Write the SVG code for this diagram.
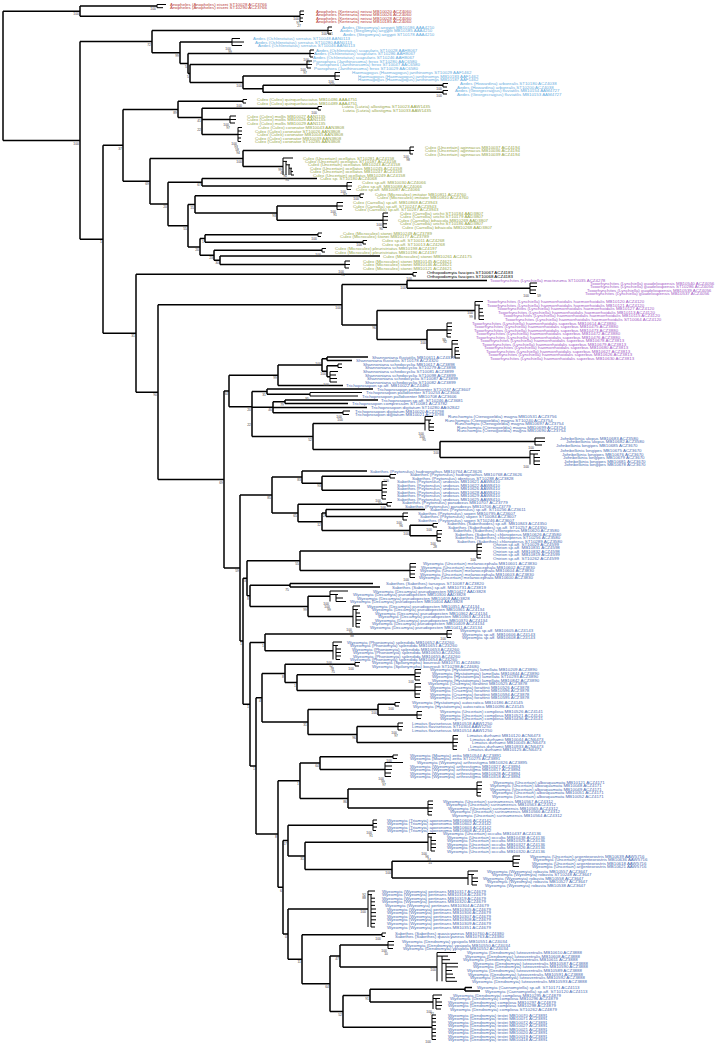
<svg xmlns="http://www.w3.org/2000/svg" width="715" height="1044" viewBox="0 0 715 1044">
<style>
text{font-family:"Liberation Sans",Arial,sans-serif}
.l{font-size:4.4px}
.b{font-size:3.4px;fill:#444;text-anchor:end}
.an{fill:#b8413c}.ae{fill:#6aaee0}.cx{fill:#98a84a}.or{fill:#000}.tx{fill:#a35ac6}.sb{fill:#4b6db3}
.br{fill:none;stroke:#000;stroke-width:1.5}
.tp{fill:none;stroke:#000;stroke-width:1}
</style>
<rect width="715" height="1044" fill="#fff"/>
<g id="branches">
<path class="br" d="M3 11.2V140.5M3 11.2H80M80 6.1V16.25M80 6.1H157M80 16.25H300M3 140.5H80M80 41.6V239.2M80 41.6H152M152 30.5V52.75M152 30.5H328M152 52.75H180M180 42V63.5M180 42H232M180 63.5H188M188 53.5V73.45M188 53.5H310M188 73.45H190M190 64.5V82.4M190 64.5H307M190 82.4H243M243 76V88.75M243 76H335M243 88.75H263M263 85.25V92.25M263 85.25H443M263 92.25H443
M80 239.2H103M103 145.3V333.2M103 145.3H123M123 109.4V181.2M123 109.4H178M178 101.25V117.6M178 101.25H243M178 117.6H202M202 108.25V134.5M202 108.25H318M202 119.5H230M202 134.5H238M123 181.2H150M150 158.5V203.95M150 158.5H243M243 150.5V166.5M243 150.5H410M243 166.5H283M150 203.95H168M168 182.25V225.65M168 182.25H202M202 178.5V186M202 178.5H317M202 186H347M168 225.65H188M188 204.4V246.9M188 204.4H195M195 195.75V213.1M195 195.75H360M195 213.1H277M277 206V220.2M277 206H337M277 220.2H383M188 246.9H200M200 238.5V255.25M200 238.5H205M205 234.75V242.25M205 234.75H318M205 242.25H363M200 255.25H214M214 250.25V260.25M214 250.25H322M214 260.25H220M220 256V264.5M220 256H380M220 264.5H345
M103 333.2H136M136 274.25V392.2M136 274.25H413M136 392.2H158M158 304.7V479.55M158 304.7H342M342 284.4V325M342 284.4H407M407 280.5V288.25M407 280.5H487M407 288.25H530M342 325H377M377 310.5V339.6M377 310.5H475M377 339.6H427M427 330V349.25M427 330H447M427 349.25H452
M158 479.55H224M224 391V568.1M224 391H229M229 375.25V406.75M229 375.25H278M278 365V385.5M278 365H322M322 358.75V371.25M322 358.75H327M327 357V360.5M327 357H368M327 360.5H352M322 371.25H327M327 365.75V376.75M327 365.75H338M327 376.75H330M278 385.5H343M229 406.75H252M252 391.6V436.5M252 391.6H267M267 389V394.25M267 389H373M267 394.25H310M252 407.25H273M273 401.75V412.75M273 401.75H285M285 400V403.5M285 400H378M285 403.5H348M273 407.5H367M273 412.75H343M252 436.5H313M313 423.5V449.5M313 423.5H425M313 449.5H440M440 441.5V457.5M440 441.5H535M440 457.5H530
M224 568.1H240M240 495.05V641.1M240 495.05H272M272 477.1V513M272 477.1H302M302 471V483.25M302 471H367M302 483.25H322M322 476.25V490.25M322 476.25H390M322 490.25H382M272 513H298M298 504.25V521.75M298 504.25H387M298 521.75H322M322 513V530.5M322 513H326M326 509.5V516.5M326 509.5H425M326 516.5H403M322 530.5H410M410 525.25V535.75M410 525.25H433M410 535.75H437
M240 641.1H243M243 578.2V704.15M243 578.2H247M247 560.75V595.8M247 560.75H300M300 551V570.5M300 551H477M300 570.5H410M247 595.8H250M250 585.25V606.4M250 585.25H290M290 583.5V587M290 583.5H373M290 587H380M250 606.4H308M308 596.25V616.5M308 596.25H330M308 616.5H353
M243 704.15H250M250 642.4V765.9M250 642.4H265M265 634V650.75M265 634H447M265 650.75H333M250 765.9H256M256 697.7V834.1M256 697.7H262M262 673.4V722M262 673.4H285M285 664.25V682.6M285 664.25H355M285 682.6H297M297 674.75V690.5M297 674.75H415M297 690.5H415M262 722H308M308 709.6V734.5M308 709.6H378M378 704.25V715M378 704.25H395M378 715H417M308 734.5H357M357 726.5V742.5M357 726.5H398M357 742.5H453
M256 834.1H278M278 780.8V887.35M278 780.8H300M300 763.1V798.5M300 763.1H320M320 756.75V769.5M320 756.75H393M320 769.5H385M300 798.5H348M348 789V808M348 789H477M348 808H428M278 887.35H283M283 840.6V934.1M283 840.6H288M288 825.25V855.9M288 825.25H373M288 855.9H305M305 842.25V869.6M305 842.25H428M305 869.6H392M392 861.25V878M392 861.25H513M392 878H468M283 934.1H288M288 909V959.2M288 909H368M288 959.2H302M302 934.75V983.7M302 934.75H382M302 983.7H330M330 955.95V1011.4M330 955.95H340M340 945V966.9M340 945H388M340 966.9H437M330 1011.4H343M343 995.6V1027.25M343 995.6H370M370 989.25V1002M370 989.25H465M465 987.5V991M465 987.5H472M465 991H480M370 1002H433M343 1027.25H432"/>
<path class="tp" d="M157 4.5V7.7M157 4.5H166M157 7.7H163M300 11V21.5M300 11H304M300 14.5H304M300 18H303M300 21.5H303M328 27V34M328 27H332M328 30.5H332M328 34H331M232 38.5V45.5M232 38.5H240M232 42H244M232 45.5H242M310 50V57M310 50H314M310 53.5H314M310 57H313M307 61V68M307 61H312M307 64.5H312M307 68H311M335 72.5V79.5M335 72.5H340M335 76H340M335 79.5H339M443 83.5V87M443 83.5H448M443 87H447M443 90.5V94M443 90.5H448M443 94H447
M243 99.5V103M243 99.5H247M243 103H246M318 106.5V110M318 106.5H322M318 110H321M230 116V123M230 116H236M230 119.5H236M230 123H235M238 127.5V141.5M238 127.5H242M238 131H242M238 134.5H242M238 138H241M238 141.5H241M410 147V154M410 147H414M410 150.5H414M410 154H413M283 158V175M283 158H293M283 161.4H287M286 161.4V175M286 164.8H290M289 164.8V175M289 168.2H292M291 168.2V175M291 171.6H293M291 175H294M347 182.5V189.5M347 182.5H352M347 186H352M347 189.5H351M360 194V197.5M360 194H364M360 197.5H363M337 202.5V209.5M337 202.5H343M337 206H343M337 209.5H342M383 213V227.4M383 213H388M383 216.6H388M383 220.2H388M383 223.8H387M383 227.4H387M318 233V236.5M318 233H322M318 236.5H321M363 240.5V244M363 240.5H367M363 244H366M322 248.5V252M322 248.5H326M322 252H325M345 261V268M345 261H350M345 264.5H350M345 268H349M413 272.5V276M413 272.5H417M413 276H416
M530 283V293.5M530 283H537M530 286.5H537M530 290H536M530 293.5H536M475 301.5V319.5M475 301.5H483M475 305.1H480M479 305.1V319.5M479 308.7H483M479 312.3H483M479 315.9H484M479 319.5H484M447 323V337M447 323H452M447 326.5H452M447 330H452M447 333.5H451M447 337H451M452 340.5V358M452 340.5H458M452 344H458M455 347.5V358M455 347.5H459M455 351H459M455 354.5H460M455 358H460M338 364V367.5M338 364H342M338 367.5H342M330 371.5V382M330 371.5H338M330 375H336M330 378.5H337M330 382H337M310 392.5V396M310 392.5H362M310 396H358M343 411V414.5M343 411H350M343 414.5H349M425 416.5V430.5M425 416.5H433M425 420H431M429 420V430.5M429 423.5H434M429 427H434M429 430.5H434M535 438V445M535 438H545M535 441.5H545M535 445H542M530 450.5V464.5M530 450.5H540M530 454H538M534 454V464.5M534 457.5H540M534 461H540M534 464.5H540
M390 474.5V478M390 474.5H396M390 478H395M382 481.5V499M382 481.5H387M382 485H387M382 488.5H387M382 492H387M382 495.5H386M382 499H386M387 502.5V506M387 502.5H392M387 506H391M403 513V520M403 513H408M403 516.5H408M403 520H407M433 523.5V527M433 523.5H438M433 527H437M437 530.5V541M437 530.5H442M437 534H442M437 537.5H441M437 541H441M477 544V558M477 544H482M477 547.5H482M477 551H482M477 554.5H481M477 558H481M410 563.5V577.5M410 563.5H416M410 567H416M410 570.5H415M410 574H415M410 577.5H415
M330 591V601.5M330 591H348M330 594.5H338M336 594.5V601.5M336 598H343M336 601.5H346M353 606V627M353 606H360M353 609.5H358M356 609.5V627M356 613H360M356 616.5H361M356 620H361M356 623.5H360M356 627H360M447 630.5V637.5M447 630.5H452M447 634H452M447 637.5H451M333 642V659.5M333 642H342M333 645.5H338M336 645.5V659.5M336 649H341M336 652.5H341M336 656H341M336 659.5H340M355 662.5V666M355 662.5H360M355 666H359M415 669.5V680M415 669.5H421M415 673H421M415 676.5H420M415 680H420M415 683.5V697.5M415 683.5H421M415 687H421M415 690.5H421M415 694H420M415 697.5H420M395 702.5V706M395 702.5H400M395 706H399M417 711.5V718.5M417 711.5H422M417 715H422M417 718.5H421M398 723V730M398 723H403M398 726.5H403M398 730H402M453 735.5V749.5M453 735.5H458M453 739H458M453 742.5H458M453 746H457M453 749.5H457
M393 755V758.5M393 755H398M393 758.5H397M385 762.5V776.5M385 762.5H403M385 766H392M385 769.5H392M385 773H391M385 776.5H391M477 782V796M477 782H482M477 785.5H482M477 789H482M477 792.5H481M477 796H481M428 801V815M428 801H433M428 804.5H433M428 808H433M428 811.5H432M428 815H432M373 820V830.5M373 820H377M373 823.5H377M373 827H377M373 830.5H376M428 833.5V851M428 833.5H436M428 837H432M431 837V851M431 840.5H436M431 844H436M431 847.5H436M431 851H435M513 856V866.5M513 856H520M513 859.5H520M513 863H519M513 866.5H519M468 871V885M468 871H478M468 874.5H474M472 874.5V885M472 878H478M472 881.5H478M472 885H477
M368 891V927M368 891H375M368 894.6H372M371 894.6V927M371 898.2H375M371 901.8H375M371 905.4H375M371 909H376M371 912.6H376M371 916.2H376M371 919.8H376M371 923.4H375M371 927H375M382 933V936.5M382 933H386M382 936.5H385M388 941.5V948.5M388 941.5H394M388 945H394M388 948.5H393M437 952.5V981.3M437 952.5H456M437 956.1H448M442 956.1V981.3M442 959.7H450M442 963.3H458M446 963.3V981.3M446 966.9H458M446 970.5H452M446 974.1H453M446 977.7H455M446 981.3H457M433 995V1009M433 995H442M433 998.5H440M436 998.5V1009M436 1002H442M436 1005.5H442M436 1009H441M432 1015V1039.5M432 1015H436M432 1018.5H436M432 1022H436M432 1025.5H436M432 1029H436M432 1032.5H436M432 1036H436M432 1039.5H436"/>
</g>
<g id="aedini" class="l">
<g id="n-anopheles" class="an">
<text x="170" y="6">Anopheles (Anopheles) eiseni ST10028 ACZ3766</text>
<text x="170" y="9.2">Anopheles (Anopheles) eiseni ST10290 ACZ3766</text>
<text x="316" y="12.5">Anopheles (Kerteszia) neivai MB10020 ACZ4060</text>
<text x="316" y="16">Anopheles (Kerteszia) neivai MB10026 ACZ4060</text>
<text x="316" y="19.5">Anopheles (Kerteszia) neivai MB10028 ACZ4060</text>
<text x="316" y="23">Anopheles (Kerteszia) neivai MB10185 ACZ4060</text>
</g>
<g id="n-aedes" class="ae">
<text x="342" y="28.5">Aedes (Stegomyia) aegypti MB10186 AAA4210</text>
<text x="340" y="32">Aedes (Stegomyia) aegypti MB10185 AAA4210</text>
<text x="343" y="35.5">Aedes (Stegomyia) aegypti ST10178 AAA4210</text>
<text x="253" y="40">Aedes (Ochlerotatus) serratus ST10048 AAN0113</text>
<text x="255" y="43.5">Aedes (Ochlerotatus) serratus ST10280 AAN0113</text>
<text x="258" y="47">Aedes (Ochlerotatus) serratus ST10046 AAN0113</text>
<text x="316" y="51.5">Aedes (Ochlerotatus) scapularis ST10028 AAH8067</text>
<text x="314" y="55">Aedes (Ochlerotatus) scapularis ST10286 AAH8067</text>
<text x="313" y="58.5">Aedes (Ochlerotatus) scapularis ST10246 AAH8067</text>
<text x="313" y="62.5">Psorophora (Janthinosoma) ferox ST10280 AAC6580</text>
<text x="316" y="66">Psorophora (Janthinosoma) ferox ST10047 AAC6580</text>
<text x="314" y="69.5">Psorophora (Janthinosoma) ferox ST10029 AAC6580</text>
<text x="352" y="74">Haemagogus (Haemagogus) janthinomys ST10029 AAF1462</text>
<text x="358" y="77.5">Haemagogus (Haemagogus) janthinomys MB10183 AAF1462</text>
<text x="358" y="81">Haemagogus (Haemagogus) janthinomys MB10187 AAF1462</text>
<text x="460" y="85">Aedes (Howardina) arborealis ST10180 ACZ4038</text>
<text x="457" y="88.5">Aedes (Howardina) arborealis ST10200 ACZ4038</text>
<text x="455" y="92">Aedes (Georgecraigius) fluviatilis MB10154 AAM4727</text>
<text x="457" y="95.5">Aedes (Georgecraigius) fluviatilis MB10153 AAM4727</text>
</g>
</g>
<g id="culicini" class="l cx">
<text x="257" y="101">Culex (Culex) quinquefasciatus MB10486 AAA4751</text>
<text x="257" y="104.5">Culex (Culex) quinquefasciatus MB10489 AAA4751</text>
<text x="342" y="108">Lutzia (Lutzia) allostigma ST10023 AAW1435</text>
<text x="343" y="111.5">Lutzia (Lutzia) allostigma ST10033 AAW1435</text>
<text x="247" y="117.5">Culex (Culex) mollis MB10027 AAN1135</text>
<text x="247" y="121">Culex (Culex) mollis MB10028 AAN1135</text>
<text x="247" y="124.5">Culex (Culex) mollis MB10029 AAN1135</text>
<text x="258" y="129">Culex (Culex) coronator MB10043 AAN3808</text>
<text x="255" y="132.5">Culex (Culex) coronator ST10026 AAN3808</text>
<text x="257" y="136">Culex (Culex) coronator MB10045 AAN3808</text>
<text x="255" y="139.5">Culex (Culex) coronator MB10039 AAN3808</text>
<text x="255" y="143">Culex (Culex) coronator ST10285 AAN3808</text>
<text x="425" y="148.5">Culex (Uncertain) aginnacus MB10037 ACZ4194</text>
<text x="425" y="152">Culex (Uncertain) aginnacus MB10036 ACZ4194</text>
<text x="425" y="155.5">Culex (Uncertain) aginnacus MB10039 ACZ4194</text>
<text x="303" y="159.5">Culex (Uncertain) ocellatus ST10281 ACZ4158</text>
<text x="305" y="162.9">Culex (Uncertain) ocellatus ST10187 ACZ4158</text>
<text x="308" y="166.3">Culex (Uncertain) ocellatus MB10243 ACZ4158</text>
<text x="310" y="169.7">Culex (Uncertain) ocellatus MB10245 ACZ4158</text>
<text x="310" y="173.1">Culex (Uncertain) ocellatus MB10247 ACZ4158</text>
<text x="313" y="176.5">Culex (Uncertain) ocellatus MB10249 ACZ4158</text>
<text x="320" y="180">Culex sp. ST10180 ACZ4068</text>
<text x="362" y="184">Culex sp.aff. MB10030 ACZ4066</text>
<text x="358" y="187.5">Culex sp.aff. MB10088 ACZ4066</text>
<text x="356" y="191">Culex sp.aff. MB10087 ACZ4066</text>
<text x="375" y="195.5">Culex (Microculex) imitator MB10811 ACZ4760</text>
<text x="377" y="199">Culex (Microculex) imitator MB10810 ACZ4760</text>
<text x="353" y="204">Culex (Carrollia) sp.aff. MB10868 ACZ3943</text>
<text x="353" y="207.5">Culex (Carrollia) sp.aff. ST10247 ACZ3943</text>
<text x="355" y="211">Culex (Carrollia) sp.aff. ST10287 ACZ3943</text>
<text x="400" y="214.5">Culex (Carrollia) urichii ST10184 AAD3807</text>
<text x="400" y="218.1">Culex (Carrollia) urichii ST10179 AAD3807</text>
<text x="398" y="221.7">Culex (Carrollia) bihaicola MB10269 AAD3807</text>
<text x="400" y="225.3">Culex (Carrollia) urichii ST10186 AAD3807</text>
<text x="402" y="228.9">Culex (Carrollia) bihaicola MB10268 AAD3807</text>
<text x="343" y="234.5">Culex (Microculex) stonei MB10249 ACZ3789</text>
<text x="340" y="238">Culex (Microculex) stonei MB10177 ACZ3789</text>
<text x="382" y="242">Culex sp.aff. ST10011 ACZ4268</text>
<text x="382" y="245.5">Culex sp.aff. ST10013 ACZ4268</text>
<text x="335" y="250">Culex (Microculex) pleuristriatus MB10198 ACZ4197</text>
<text x="335" y="253.5">Culex (Microculex) pleuristriatus MB10196 ACZ4197</text>
<text x="383" y="257.5">Culex (Microculex) stonei MB10261 ACZ4175</text>
<text x="363" y="262.5">Culex (Microculex) stonei MB10145 ACZ4621</text>
<text x="363" y="266">Culex (Microculex) stonei MB10146 ACZ4621</text>
<text x="363" y="269.5">Culex (Microculex) stonei MB10121 ACZ4621</text>
</g>
<g id="orthopodomyia" class="l or">
<text x="427" y="274">Orthopodomyia fascipes ST10067 ACZ4183</text>
<text x="427" y="277.5">Orthopodomyia fascipes ST10068 ACZ4183</text>
</g>
<g id="toxorhynchites" class="l tx">
<text x="490" y="282">Toxorhynchites (Lynchiella) moctezuma ST10035 ACZ4278</text>
<text x="590" y="284.5">Toxorhynchites (Lynchiella) guadeloupensis MB10540 ACZ4056</text>
<text x="590" y="288">Toxorhynchites (Lynchiella) guadeloupensis ST10286 ACZ4056</text>
<text x="587" y="291.5">Toxorhynchites (Lynchiella) guadeloupensis MB10539 ACZ4056</text>
<text x="585" y="295">Toxorhynchites (Lynchiella) guadeloupensis MB10537 ACZ4056</text>
<text x="487" y="303">Toxorhynchites (Lynchiella) haemorrhoidalis haemorrhoidalis MB10120 ACZ4120</text>
<text x="487" y="306.6">Toxorhynchites (Lynchiella) haemorrhoidalis haemorrhoidalis MB10121 ACZ4120</text>
<text x="497" y="310.2">Toxorhynchites (Lynchiella) haemorrhoidalis haemorrhoidalis MB10127 ACZ4120</text>
<text x="498" y="313.8">Toxorhynchites (Lynchiella) haemorrhoidalis haemorrhoidalis MB10113 ACZ4120</text>
<text x="503" y="317.4">Toxorhynchites (Lynchiella) haemorrhoidalis haemorrhoidalis MB10115 ACZ4120</text>
<text x="505" y="321">Toxorhynchites (Lynchiella) haemorrhoidalis haemorrhoidalis ST10064 ACZ4120</text>
<text x="472" y="324.5">Toxorhynchites (Lynchiella) haemorrhoidalis superbus MB10614 ACZ3880</text>
<text x="474" y="328">Toxorhynchites (Lynchiella) haemorrhoidalis superbus MB10475 ACZ3880</text>
<text x="474" y="331.5">Toxorhynchites (Lynchiella) haemorrhoidalis superbus MB10473 ACZ3880</text>
<text x="476" y="335">Toxorhynchites (Lynchiella) haemorrhoidalis superbus MB10472 ACZ3880</text>
<text x="476" y="338.5">Toxorhynchites (Lynchiella) haemorrhoidalis superbus MB10476 ACZ3880</text>
<text x="480" y="342">Toxorhynchites (Lynchiella) haemorrhoidalis superbus MB10678 ACZ3813</text>
<text x="482" y="345.5">Toxorhynchites (Lynchiella) haemorrhoidalis superbus MB10679 ACZ3813</text>
<text x="484" y="349">Toxorhynchites (Lynchiella) haemorrhoidalis superbus MB10680 ACZ3813</text>
<text x="486" y="352.5">Toxorhynchites (Lynchiella) haemorrhoidalis superbus MB10627 ACZ3813</text>
<text x="488" y="356">Toxorhynchites (Lynchiella) haemorrhoidalis superbus MB10626 ACZ3813</text>
<text x="490" y="359.5">Toxorhynchites (Lynchiella) haemorrhoidalis superbus MB10630 ACZ3813</text>
</g>
<g id="sabethini-1" class="l sb">
<text x="372" y="358.5">Shannoniana fluviatilis MB10611 ACZ4319</text>
<text x="356" y="362">Shannoniana fluviatilis ST10178 ACZ4320</text>
<text x="363" y="365.5">Shannoniana schedocyclia MB10617 ACZ3898</text>
<text x="365" y="369">Shannoniana schedocyclia ST10279 ACZ3898</text>
<text x="363" y="373">Shannoniana schedocyclia ST10081 ACZ3899</text>
<text x="365" y="376.5">Shannoniana schedocyclia ST10098 ACZ3899</text>
<text x="367" y="380">Shannoniana schedocyclia ST10087 ACZ3899</text>
<text x="365" y="383.5">Shannoniana schedocyclia ST10082 ACZ3899</text>
<text x="346" y="387">Trichoprosopon sp.aff. MB10022 ACZ4480</text>
<text x="377" y="390.5">Trichoprosopon pallidiventer ST10247 ACZ3607</text>
<text x="366" y="394">Trichoprosopon pallidiventer ST10253 ACZ3606</text>
<text x="362" y="397.5">Trichoprosopon pallidiventer MB10708 ACZ3606</text>
<text x="381" y="401.5">Trichoprosopon sp.aff. ST10246 ACZ3681</text>
<text x="352" y="405">Trichoprosopon compressum ST10081 ACZ3782</text>
<text x="371" y="409">Trichoprosopon digitatum ST10280 AAG2842</text>
<text x="355" y="412.5">Trichoprosopon digitatum MB10020 ACZ3798</text>
<text x="355" y="416">Trichoprosopon digitatum MB10021 ACZ3798</text>
<text x="448" y="418">Runchomyia (Ctenogoeldia) magna MB10531 ACZ3756</text>
<text x="445" y="421.5">Runchomyia (Ctenogoeldia) magna ST10240 ACZ3754</text>
<text x="455" y="425">Runchomyia (Ctenogoeldia) magna MB10697 ACZ3754</text>
<text x="457" y="428.5">Runchomyia (Ctenogoeldia) magna MB10699 ACZ3754</text>
<text x="457" y="432">Runchomyia (Ctenogoeldia) magna MB10690 ACZ3754</text>
<text x="560" y="439.5">Johnbelkinia ulopus MB10683 ACZ3580</text>
<text x="566" y="443">Johnbelkinia ulopus MB10682 ACZ3580</text>
<text x="556" y="446.5">Johnbelkinia longipes MB10685 ACZ3670</text>
<text x="560" y="452">Johnbelkinia longipes MB10675 ACZ3670</text>
<text x="562" y="455.5">Johnbelkinia longipes MB10676 ACZ3670</text>
<text x="563" y="459">Johnbelkinia longipes MB10679 ACZ3670</text>
<text x="564" y="462.5">Johnbelkinia longipes MB10681 ACZ3670</text>
<text x="564" y="466">Johnbelkinia longipes MB10678 ACZ3670</text>
<text x="370" y="472.5">Sabethes (Peytonulus) hadrognathus MB10764 ACZ3626</text>
<text x="410" y="476">Sabethes (Peytonulus) hadrognathus MB10768 ACZ3626</text>
<text x="412" y="479.5">Sabethes (Peytonulus) identicus ST10288 ACZ3828</text>
<text x="397" y="483">Sabethes (Peytonulus) undosus MB10621 AAW8410</text>
<text x="397" y="486.5">Sabethes (Peytonulus) undosus MB10622 AAW8410</text>
<text x="397" y="490">Sabethes (Peytonulus) undosus MB10626 AAW8410</text>
<text x="397" y="493.5">Sabethes (Peytonulus) undosus MB10628 AAW8410</text>
<text x="397" y="497">Sabethes (Peytonulus) undosus MB10629 AAW8410</text>
<text x="397" y="500.5">Sabethes (Peytonulus) undosus MB10625 AAW8410</text>
<text x="402" y="504">Sabethes (Peytonulus) paradoxus MB10707 ACZ3779</text>
<text x="405" y="507.5">Sabethes (Peytonulus) paradoxus MB10706 ACZ3779</text>
<text x="430" y="511">Sabethes (Peytonulus) sp.aff. ST10256 ACZ3611</text>
<text x="418" y="514.5">Sabethes (Peytonulus) soperi MB10795 ACZ3607</text>
<text x="420" y="518">Sabethes (Peytonulus) soperi ST10084 ACZ3607</text>
<text x="418" y="521.5">Sabethes (Peytonulus) soperi ST10246 ACZ3607</text>
<text x="447" y="525">Sabethes (Sabethoides) sp.aff. MB10843 ACZ4350</text>
<text x="448" y="528.5">Sabethes (Sabethoides) sp.aff. ST10257 ACZ4350</text>
<text x="453" y="532">Sabethes (Sabethes) chloropterus MB10620 ACZ3580</text>
<text x="455" y="535.5">Sabethes (Sabethes) chloropterus MB10626 ACZ3580</text>
<text x="455" y="539">Sabethes (Sabethes) chloropterus ST10256 ACZ3580</text>
<text x="457" y="542.5">Sabethes (Sabethes) chloropterus ST10289 ACZ3580</text>
<text x="493" y="545.5">Onirion sp.aff. ST10029 ACZ4599</text>
<text x="493" y="549">Onirion sp.aff. MB10831 ACZ4598</text>
<text x="493" y="552.5">Onirion sp.aff. MB10832 ACZ4598</text>
<text x="493" y="556">Onirion sp.aff. MB10819 ACZ4599</text>
<text x="493" y="559.5">Onirion sp.aff. ST10262 ACZ4599</text>
<text x="423" y="565">Wyeomyia (Uncertain) melanocephala MB10601 ACZ3830</text>
<text x="421" y="568.5">Wyeomyia (Uncertain) melanocephala MB10602 ACZ3830</text>
<text x="420" y="572">Wyeomyia (Uncertain) melanocephala MB10604 ACZ3830</text>
<text x="420" y="575.5">Wyeomyia (Uncertain) melanocephala MB10603 ACZ3830</text>
<text x="419" y="579">Wyeomyia (Uncertain) melanocephala MB10600 ACZ3830</text>
</g>
<g id="sabethini-2" class="l sb">
<text x="386" y="585">Sabethes (Sabethes) tarsopus ST10087 ACZ3820</text>
<text x="392" y="588.5">Sabethes (Sabethes) sp.aff. MB10731 ACZ3819</text>
<text x="373" y="592.5">Wyeomyia (Decamyia) pseudopecten MB10427 AAD3828</text>
<text x="353" y="596">Wyeomyia (Decamyia) pseudopecten MB10300 AAD3828</text>
<text x="357" y="599.5">Wyeomyia (Decamyia) pseudopecten MB10409 AAD3828</text>
<text x="350" y="603">Wyeomyia (Decamyia) pseudopecten MB10404 AAD3828</text>
<text x="367" y="607.5">Wyeomyia (Decamyia) pseudopecten MB10351 ACZ4134</text>
<text x="372" y="611">Wyeomyia (Decamyia) pseudopecten MB10361 ACZ4134</text>
<text x="375" y="614.5">Wyeomyia (Decamyia) pseudopecten MB10362 ACZ4134</text>
<text x="378" y="618">Wyeomyia (Decamyia) pseudopecten MB10363 ACZ4134</text>
<text x="375" y="621.5">Wyeomyia (Decamyia) pseudopecten MB10370 ACZ4134</text>
<text x="372" y="625">Wyeomyia (Decamyia) pseudopecten MB10409 ACZ4134</text>
<text x="370" y="628.5">Wyeomyia (Decamyia) pseudopecten MB10411 ACZ4134</text>
<text x="460" y="632">Wyeomyia sp.aff. MB10605 ACZ4143</text>
<text x="462" y="635.5">Wyeomyia sp.aff. MB10606 ACZ4143</text>
<text x="462" y="639">Wyeomyia sp.aff. MB10608 ACZ4143</text>
<text x="347" y="643.5">Wyeomyia (Phoniomyia) splendida MB10652 ACZ4260</text>
<text x="350" y="647">Wyeomyia (Phoniomyia) splendida MB10651 ACZ4260</text>
<text x="352" y="650.5">Wyeomyia (Phoniomyia) splendida MB10653 ACZ4260</text>
<text x="353" y="654">Wyeomyia (Phoniomyia) splendida MB10650 ACZ4260</text>
<text x="353" y="657.5">Wyeomyia (Phoniomyia) splendida MB10655 ACZ4260</text>
<text x="350" y="661">Wyeomyia (Phoniomyia) splendida MB10654 ACZ4260</text>
<text x="372" y="664">Wyeomyia (Spilonympha) bourrouli MB10731 ACZ4680</text>
<text x="372" y="667.5">Wyeomyia (Spilonympha) bourrouli ST10298 ACZ4680</text>
<text x="430" y="671">Wyeomyia (Hystatomyia) lamellata MB10209 ACZ3890</text>
<text x="432" y="674.5">Wyeomyia (Hystatomyia) lamellata MB10844 ACZ3890</text>
<text x="432" y="678">Wyeomyia (Hystatomyia) lamellata ST10293 ACZ3890</text>
<text x="432" y="681.5">Wyeomyia (Hystatomyia) lamellata MB10842 ACZ3890</text>
<text x="428" y="685">Wyeomyia (Cruzmyia) forattinii MB10525 ACZ3878</text>
<text x="430" y="688.5">Wyeomyia (Cruzmyia) forattinii MB10526 ACZ3878</text>
<text x="430" y="692">Wyeomyia (Cruzmyia) forattinii MB10596 ACZ3878</text>
<text x="430" y="695.5">Wyeomyia (Cruzmyia) forattinii MB10594 ACZ3878</text>
<text x="430" y="699">Wyeomyia (Cruzmyia) forattinii MB10595 ACZ3878</text>
<text x="412" y="704">Wyeomyia (Hystatomyia) autocratica MB10186 ACZ4145</text>
<text x="413" y="707.5">Wyeomyia (Hystatomyia) autocratica MB10096 ACZ4145</text>
<text x="440" y="713">Wyeomyia (Uncertain) complosa MB10526 ACZ4141</text>
<text x="440" y="716.5">Wyeomyia (Uncertain) complosa MB10521 ACZ4141</text>
<text x="440" y="720">Wyeomyia (Uncertain) complosa MB10436 ACZ4141</text>
<text x="412" y="724.5">Limatus flavisetosus MB10518 AAW1250</text>
<text x="412" y="728">Limatus flavisetosus ST10304 AAW1250</text>
<text x="412" y="731.5">Limatus flavisetosus MB10514 AAW1250</text>
<text x="467" y="737">Limatus durhamii MB10120 ACN6473</text>
<text x="470" y="740.5">Limatus durhamii MB10044 ACN6473</text>
<text x="472" y="744">Limatus durhamii MB10045 ACN6473</text>
<text x="470" y="747.5">Limatus durhamii MB10933 ACN6473</text>
<text x="468" y="751">Limatus durhamii MB10125 ACN6473</text>
<text x="410" y="756.5">Wyeomyia (Miamyia) zetta MB10544 ACZ3891</text>
<text x="410" y="760">Wyeomyia (Miamyia) zetta ST10275 ACZ3891</text>
<text x="417" y="764">Wyeomyia (Wyeomyia) arthrostigma MB10326 ACZ3895</text>
<text x="410" y="767.5">Wyeomyia (Wyeomyia) arthrostigma MB10327 ACZ3894</text>
<text x="410" y="771">Wyeomyia (Wyeomyia) arthrostigma MB10317 ACZ3894</text>
<text x="410" y="774.5">Wyeomyia (Wyeomyia) arthrostigma MB10328 ACZ3894</text>
<text x="410" y="778">Wyeomyia (Wyeomyia) arthrostigma MB10318 ACZ3894</text>
<text x="493" y="783.5">Wyeomyia (Uncertain) albosquamata MB10121 ACZ4171</text>
<text x="490" y="787">Wyeomyia (Uncertain) albosquamata MB10048 ACZ4171</text>
<text x="490" y="790.5">Wyeomyia (Uncertain) albosquamata MB10049 ACZ4171</text>
<text x="492" y="794">Wyeomyia (Uncertain) albosquamata MB10051 ACZ4171</text>
<text x="492" y="797.5">Wyeomyia (Uncertain) albosquamata MB10052 ACZ4171</text>
<text x="443" y="802.5">Wyeomyia (Uncertain) surinamensis MB10567 ACZ4312</text>
<text x="446" y="806">Wyeomyia (Uncertain) surinamensis MB10563 ACZ4312</text>
<text x="448" y="809.5">Wyeomyia (Uncertain) surinamensis MB10565 ACZ4312</text>
<text x="450" y="813">Wyeomyia (Uncertain) surinamensis MB10566 ACZ4312</text>
<text x="452" y="816.5">Wyeomyia (Uncertain) surinamensis MB10564 ACZ4312</text>
</g>
<g id="sabethini-3" class="l sb">
<text x="387" y="821.5">Wyeomyia (Triamyia) aporonoma MB10606 ACZ4142</text>
<text x="387" y="825">Wyeomyia (Triamyia) aporonoma MB10602 ACZ4142</text>
<text x="387" y="828.5">Wyeomyia (Triamyia) aporonoma MB10603 ACZ4142</text>
<text x="387" y="832">Wyeomyia (Triamyia) aporonoma MB10608 ACZ4142</text>
<text x="443" y="835">Wyeomyia (Uncertain) occulta MB10437 ACZ4136</text>
<text x="447" y="838.5">Wyeomyia (Uncertain) occulta MB10438 ACZ4136</text>
<text x="447" y="842">Wyeomyia (Uncertain) occulta MB10325 ACZ4136</text>
<text x="447" y="845.5">Wyeomyia (Uncertain) occulta MB10327 ACZ4136</text>
<text x="447" y="849">Wyeomyia (Uncertain) occulta MB10326 ACZ4136</text>
<text x="447" y="852.5">Wyeomyia (Uncertain) occulta MB10320 ACZ4136</text>
<text x="530" y="857.5">Wyeomyia (Uncertain) argenteorostris MB10639 AAW5716</text>
<text x="533" y="861">Wyeomyia (Uncertain) argenteorostris MB10636 AAW5716</text>
<text x="532" y="864.5">Wyeomyia (Uncertain) argenteorostris MB10618 AAW5716</text>
<text x="532" y="868">Wyeomyia (Uncertain) argenteorostris MB10621 AAW5716</text>
<text x="487" y="872.5">Wyeomyia (Wyeomyia) robusta MB10557 ACZ3647</text>
<text x="492" y="876">Wyeomyia (Wyeomyia) robusta ST10248 ACZ3647</text>
<text x="483" y="879.5">Wyeomyia (Wyeomyia) robusta MB10558 ACZ3647</text>
<text x="487" y="883">Wyeomyia (Wyeomyia) robusta MB10527 ACZ3647</text>
<text x="485" y="886.5">Wyeomyia (Wyeomyia) robusta MB10538 ACZ3647</text>
<text x="382" y="892.5">Wyeomyia (Wyeomyia) pertinans MB10317 ACZ4679</text>
<text x="382" y="896.1">Wyeomyia (Wyeomyia) pertinans MB10318 ACZ4679</text>
<text x="382" y="899.7">Wyeomyia (Wyeomyia) pertinans MB10319 ACZ4679</text>
<text x="382" y="903.3">Wyeomyia (Wyeomyia) pertinans MB10320 ACZ4679</text>
<text x="385" y="906.9">Wyeomyia (Wyeomyia) pertinans MB10304 ACZ4679</text>
<text x="387" y="910.5">Wyeomyia (Wyeomyia) pertinans MB10305 ACZ4679</text>
<text x="387" y="914.1">Wyeomyia (Wyeomyia) pertinans MB10306 ACZ4679</text>
<text x="387" y="917.7">Wyeomyia (Wyeomyia) pertinans MB10307 ACZ4679</text>
<text x="387" y="921.3">Wyeomyia (Wyeomyia) pertinans MB10308 ACZ4679</text>
<text x="387" y="924.9">Wyeomyia (Wyeomyia) pertinans MB10309 ACZ4679</text>
<text x="387" y="928.5">Wyeomyia (Wyeomyia) pertinans MB10351 ACZ4679</text>
<text x="395" y="934.5">Sabethes (Sabethes) quasicyaneus MB10760 ACZ4380</text>
<text x="395" y="938">Sabethes (Sabethes) quasicyaneus MB10763 ACZ4380</text>
<text x="402" y="943">Wyeomyia (Dendromyia) ypsipola MB10551 ACZ4034</text>
<text x="405" y="946.5">Wyeomyia (Dendromyia) ypsipola MB10550 ACZ4034</text>
<text x="403" y="950">Wyeomyia (Dendromyia) ypsipola MB10552 ACZ4034</text>
<text x="467" y="954">Wyeomyia (Dendromyia) luteoventralis MB10610 ACZ3888</text>
<text x="465" y="957.6">Wyeomyia (Dendromyia) luteoventralis MB10608 ACZ3888</text>
<text x="463" y="961.2">Wyeomyia (Dendromyia) luteoventralis MB10611 ACZ3888</text>
<text x="473" y="964.8">Wyeomyia (Dendromyia) luteoventralis MB10587 ACZ3888</text>
<text x="473" y="968.4">Wyeomyia (Dendromyia) luteoventralis MB10590 ACZ3888</text>
<text x="467" y="972">Wyeomyia (Dendromyia) luteoventralis MB10589 ACZ3888</text>
<text x="468" y="975.6">Wyeomyia (Dendromyia) luteoventralis MB10591 ACZ3888</text>
<text x="470" y="979.2">Wyeomyia (Dendromyia) luteoventralis MB10592 ACZ3888</text>
<text x="472" y="982.8">Wyeomyia (Dendromyia) luteoventralis MB10593 ACZ3888</text>
<text x="477" y="989">Wyeomyia (Caenomyiella) sp.aff. ST10171 ACZ4113</text>
<text x="485" y="992.5">Wyeomyia (Caenomyiella) sp.aff. ST10120 ACZ4113</text>
<text x="453" y="996.5">Wyeomyia (Dendromyia) complosa MB10295 ACZ4879</text>
<text x="450" y="1000">Wyeomyia (Dendromyia) complosa MB10296 ACZ4879</text>
<text x="448" y="1003.5">Wyeomyia (Dendromyia) complosa MB10297 ACZ4879</text>
<text x="448" y="1007">Wyeomyia (Dendromyia) complosa MB10298 ACZ4879</text>
<text x="450" y="1010.5">Wyeomyia (Dendromyia) complosa ST10262 ACZ4879</text>
<text x="448" y="1016.5">Wyeomyia (Dendromyia) testei MB10070 ACZ3891</text>
<text x="448" y="1020">Wyeomyia (Dendromyia) testei MB10071 ACZ3891</text>
<text x="448" y="1023.5">Wyeomyia (Dendromyia) testei MB10072 ACZ3891</text>
<text x="448" y="1027">Wyeomyia (Dendromyia) testei MB10027 ACZ3891</text>
<text x="448" y="1030.5">Wyeomyia (Dendromyia) testei MB10021 ACZ3891</text>
<text x="448" y="1034">Wyeomyia (Dendromyia) testei MB10020 ACZ3891</text>
<text x="448" y="1037.5">Wyeomyia (Dendromyia) testei MB10019 ACZ3891</text>
<text x="448" y="1041">Wyeomyia (Dendromyia) testei MB10418 ACZ3891</text>
</g>
<g id="support" class="b">
<text x="79" y="144.7">100</text><text x="79" y="15.4">100</text><text x="156" y="10.3">100</text>
<text x="299" y="20.4">100</text><text x="300" y="23.7">97</text><text x="301" y="27">27</text>
<text x="151" y="45.8">72</text><text x="327" y="34.7">100</text><text x="333" y="34.7">91</text>
<text x="179" y="57">99</text><text x="231" y="49.5">100</text><text x="232" y="52.8">99</text>
<text x="187" y="67.7">5</text><text x="309" y="60.5">100</text><text x="310" y="63.5">97</text>
<text x="189" y="77.6">5</text><text x="306" y="71.2">100</text><text x="307" y="74.2">97</text>
<text x="242" y="86.6">100</text><text x="334" y="82.9">100</text><text x="335" y="85.9">100</text>
<text x="442" y="89.6">100</text><text x="442" y="96.6">100</text>
<text x="102" y="243.4">1</text><text x="122" y="149.5">37</text><text x="177" y="113.6">89</text>
<text x="242" y="106.6">100</text><text x="201" y="121.8">41</text><text x="317" y="113.6">100</text>
<text x="201" y="131.2">22</text><text x="229" y="126">100</text><text x="230" y="129">97</text>
<text x="237" y="144.8">100</text><text x="238" y="147.8">93</text><text x="239" y="150.8">58</text><text x="240" y="153.8">94</text>
<text x="149" y="185.4">69</text><text x="242" y="162.7">100</text><text x="409" y="157.5">100</text><text x="410" y="160.5">98</text>
<text x="282" y="171">99</text><text x="284" y="174.2">49</text><text x="287" y="177.4">90</text><text x="289" y="180.6">95</text>
<text x="167" y="208.1">20</text><text x="201" y="186.4">67</text><text x="346" y="192.8">100</text><text x="347" y="195.8">97</text>
<text x="187" y="229.8">55</text><text x="194" y="208.6">15</text><text x="359" y="200.3">100</text>
<text x="276" y="217.3">93</text><text x="336" y="212.7">100</text><text x="337" y="215.7">91</text>
<text x="382" y="226.2">100</text><text x="383" y="229.6">90</text>
<text x="199" y="251.1">20</text><text x="204" y="242.7">1</text><text x="317" y="240.3">100</text><text x="362" y="246.2">100</text>
<text x="213" y="259.4">23</text><text x="321" y="255.8">100</text><text x="219" y="264.4">30</text>
<text x="344" y="272.6">100</text><text x="345" y="275.6">91</text>
<text x="135" y="337.4">31</text><text x="412" y="279.8">100</text><text x="157" y="396.4">90</text>
<text x="341" y="308.9">100</text><text x="406" y="288.6">100</text><text x="529" y="297">100</text><text x="541" y="297">59</text>
<text x="376" y="329.2">96</text><text x="473" y="314.2">100</text><text x="473" y="317.6">99</text>
<text x="426" y="343.8">100</text><text x="446" y="340.6">99</text><text x="447" y="343.4">92</text>
<text x="223" y="483.7">69</text><text x="228" y="395.2">34</text><text x="277" y="379.4">99</text>
<text x="321" y="365.2">100</text><text x="326" y="375.4">100</text><text x="329" y="386.4">100</text>
<text x="251" y="410.9">20</text><text x="266" y="395.8">31</text><text x="309" y="399.6">95</text>
<text x="272" y="411.4">46</text><text x="284" y="405.9">79</text><text x="342" y="418.4">100</text><text x="343" y="421.4">100</text>
<text x="251" y="426.1">22</text><text x="312" y="440.7">52</text>
<text x="424" y="435">100</text><text x="425" y="438">100</text><text x="426" y="441">95</text>
<text x="439" y="453.7">100</text><text x="534" y="448.6">100</text><text x="529" y="467.8">100</text>
<text x="239" y="572.3">59</text><text x="271" y="499.2">85</text><text x="301" y="481.3">83</text>
<text x="321" y="487.4">93</text><text x="389" y="481.6">100</text>
<text x="381" y="502.4">100</text><text x="382" y="505.4">97</text>
<text x="297" y="517.2">65</text><text x="386" y="509.4">100</text><text x="321" y="525.9">12</text>
<text x="325" y="517.2">32</text><text x="402" y="523.6">100</text><text x="403" y="526.6">96</text>
<text x="409" y="534.7">100</text><text x="432" y="530.6">100</text><text x="436" y="544.6">100</text><text x="437" y="547.6">28</text>
<text x="242" y="645.3">1</text><text x="246" y="582.4">3</text><text x="299" y="564.9">55</text>
<text x="476" y="561.4">100</text><text x="409" y="581.4">100</text>
<text x="249" y="600">8</text><text x="289" y="591.2">75</text><text x="307" y="610.6">99</text>
<text x="329" y="605.4">100</text><text x="330" y="608.4">100</text><text x="331" y="611.4">99</text>
<text x="352" y="630.6">100</text><text x="353" y="633.6">56</text><text x="354" y="636.6">88</text>
<text x="249" y="708.3">1</text><text x="264" y="646.6">1</text><text x="446" y="640">100</text>
<text x="332" y="664">100</text><text x="333" y="667">52</text><text x="334" y="670">78</text><text x="335" y="673">75</text>
<text x="255" y="770.1">1</text><text x="261" y="701.9">4</text><text x="284" y="677.6">8</text>
<text x="354" y="669.6">100</text><text x="296" y="686.8">1</text><text x="414" y="683.4">100</text>
<text x="307" y="726.2">31</text><text x="377" y="713.8">100</text><text x="394" y="709.6">100</text>
<text x="356" y="738.7">96</text><text x="397" y="733.6">100</text><text x="398" y="736.6">97</text>
<text x="277" y="838.3">8</text><text x="299" y="785">1</text><text x="319" y="767.3">64</text>
<text x="392" y="762">100</text><text x="384" y="780">100</text><text x="385" y="783">99</text><text x="386" y="786">97</text>
<text x="347" y="802.7">86</text>
<text x="282" y="891.5">6</text><text x="287" y="844.8">17</text><text x="372" y="834">100</text><text x="373" y="837">91</text>
<text x="304" y="860.1">31</text><text x="427" y="855">100</text><text x="429" y="858">96</text><text x="431" y="861">14</text><text x="432" y="864">15</text>
<text x="391" y="873.8">100</text>
<text x="287" y="938.3">0</text><text x="366" y="895.5">92</text><text x="366" y="899">88</text><text x="366" y="913">100</text>
<text x="301" y="963.4">11</text><text x="381" y="940.2">100</text><text x="329" y="987.9">64</text><text x="339" y="960.1">47</text>
<text x="387" y="952.4">100</text><text x="388" y="955.4">10</text><text x="436" y="971.1">100</text>
<text x="342" y="1015.6">52</text><text x="369" y="999.8">91</text>
<text x="432" y="1012.6">100</text><text x="434" y="1015">92</text>
<text x="431" y="1043">100</text>
</g>
</svg>
